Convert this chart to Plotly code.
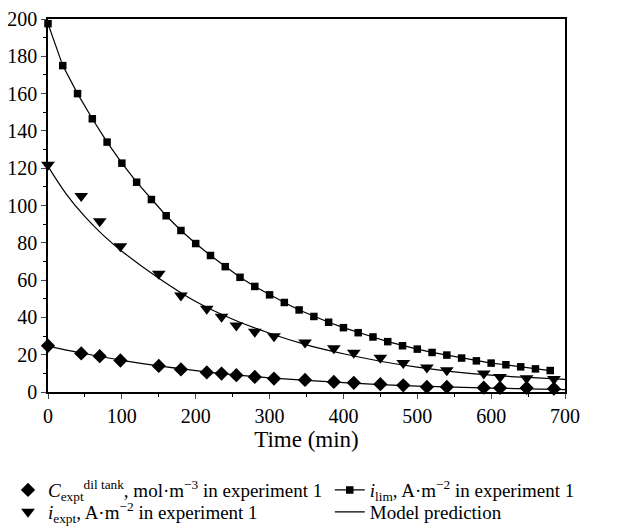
import plotly.graph_objects as go

# i_lim data (squares)
t_lim = [0, 20, 40, 60, 80, 100, 120, 140, 160, 180, 200, 220, 240, 260, 280, 300, 320,
         340, 360, 380, 400, 420, 440, 460, 480, 500, 520, 540, 560, 580, 600, 620, 640, 660, 680]
i_lim = [197.5, 175, 160, 146.5, 134, 122.7, 112.5, 103.2, 94.5, 86.6, 79.6, 73.2, 67.2, 61.5,
         56.6, 52.1, 48, 44, 40.5, 37.4, 34.5, 31.8, 29.5, 27, 24.8, 23, 21.2, 19.8, 18.2, 16.7,
         15.5, 14.6, 13.5, 12.4, 11.5]

# experiment time points
t_exp = [0, 45, 70, 98, 150, 180, 215, 235, 255, 280, 306, 348, 387, 414, 450, 481, 513, 540,
         590, 612, 648, 685]
i_expt = [121.8, 105.1, 91.6, 78.2, 63.4, 51.8, 44.6, 40.4, 35.6, 32.3, 29.9, 26.5, 23.4, 21,
          18.3, 15.6, 13.1, 11.7, 9.9, 8.1, 7.4, 7]
c_expt = [24.8, 20.7, 19.2, 16.9, 14, 12.1, 10.5, 9.9, 9, 8.1, 7.2, 6.5, 5.4, 4.9, 4.2, 3.6,
          2.7, 2.7, 2.3, 2.2, 2.2, 1.8]

# model curves
t_mod = [0, 25, 50, 75, 100, 150, 200, 250, 300, 350, 400, 450, 500, 550, 600, 650, 700]
i_mod = [121, 106, 94, 84, 75.5, 61, 48.5, 39, 31.5, 25.3, 20.5, 16.5, 13.3, 10.8, 9, 7.8, 6.8]
c_mod = [24.6, 22.5, 20.5, 18.7, 17, 14, 11.5, 9.3, 7.6, 6.2, 5, 4, 3.2, 2.6, 2.1, 1.7, 1.3]

FONT = "Liberation Serif"

fig = go.Figure()
fig.add_trace(go.Scatter(
    x=t_exp, y=c_expt, mode="markers", cliponaxis=False, legend="legend",
    marker=dict(symbol="diamond", size=11, color="black"),
    name="<i>C</i><sub>expt</sub><sup>dil tank</sup>, mol·m<sup>−3</sup> in experiment 1"))
fig.add_trace(go.Scatter(
    x=t_lim, y=i_lim, mode="lines+markers", cliponaxis=False, legend="legend2",
    line=dict(color="black", width=1.2),
    marker=dict(symbol="square", size=7.5, color="black"),
    name="<i>i</i><sub>lim</sub>, A·m<sup>−2</sup> in experiment 1"))
fig.add_trace(go.Scatter(
    x=t_exp, y=i_expt, mode="markers", cliponaxis=False, legend="legend3",
    marker=dict(symbol="triangle-down", size=12, color="black"),
    name="<i>i</i><sub>expt</sub>, A·m<sup>−2</sup> in experiment 1"))
fig.add_trace(go.Scatter(
    x=t_mod, y=i_mod, mode="lines", legend="legend4",
    line=dict(color="black", width=1.2, shape="spline"),
    name="Model prediction"))
fig.add_trace(go.Scatter(
    x=t_mod, y=c_mod, mode="lines", line=dict(color="black", width=1.2, shape="spline"),
    showlegend=False))

leg_common = dict(orientation="v", xref="paper", yref="container",
                  xanchor="left", yanchor="top", tracegroupgap=0, itemwidth=30,
                  font=dict(family=FONT, size=19, color="black"),
                  bgcolor="rgba(0,0,0,0)")

X_COL1, X_COL2 = -0.0774, 0.545
Y_ROW1, Y_ROW2 = 0.123, 0.0815

fig.update_layout(
    width=626, height=528,
    margin=dict(l=40, r=69, t=11, b=144),
    paper_bgcolor="white", plot_bgcolor="white",
    font=dict(family=FONT, size=20, color="black"),
    showlegend=True,
    legend=dict(x=X_COL1, y=Y_ROW1, **leg_common),
    legend2=dict(x=X_COL2, y=Y_ROW1, **leg_common),
    legend3=dict(x=X_COL1, y=Y_ROW2, **leg_common),
    legend4=dict(x=X_COL2, y=Y_ROW2, **leg_common),
)
fig.update_xaxes(range=[0, 700], dtick=100, ticks="outside", ticklen=5, tickwidth=1,
                 tickfont=dict(family=FONT, size=20), automargin=False,
                 showline=True, linecolor="black", linewidth=1.5, mirror=True,
                 showgrid=False, zeroline=False,
                 minor=dict(dtick=50, ticks="outside", ticklen=3, tickcolor="black"),
                 title=dict(text="Time (min)", font=dict(family=FONT, size=23), standoff=5))
fig.update_yaxes(range=[0, 200], dtick=20, ticks="outside", ticklen=5, tickwidth=1,
                 tickfont=dict(family=FONT, size=20), automargin=False,
                 showline=True, linecolor="black", linewidth=1.5, mirror=True,
                 showgrid=False, zeroline=False,
                 minor=dict(dtick=10, ticks="outside", ticklen=3, tickcolor="black"))

fig.write_html("out.html")
